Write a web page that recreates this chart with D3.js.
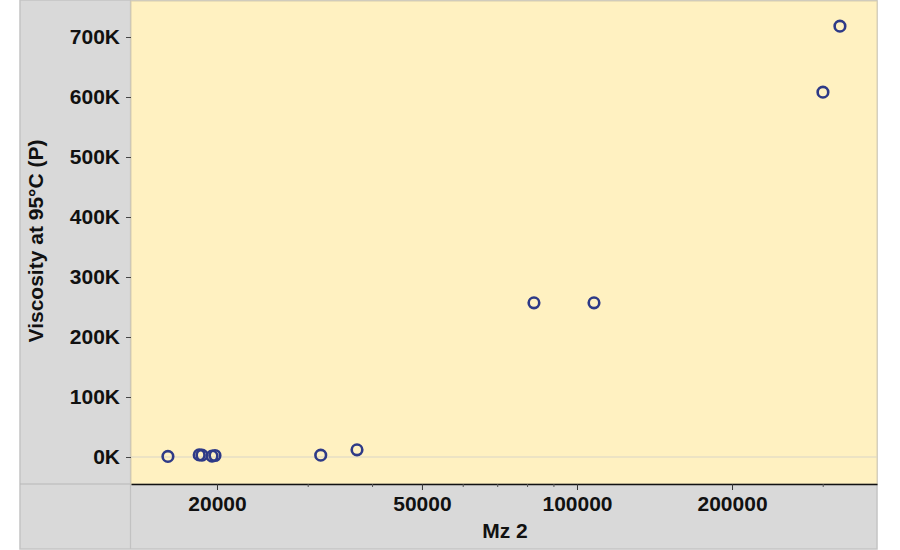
<!DOCTYPE html>
<html lang="en">
<head>
  <meta charset="UTF-8">
  <title>Viscosity vs Mz</title>
  <script src="https://d3js.org/d3.v7.min.js"></script>
  <style>
    body { margin: 0; background: #fff; }
    text { font-family: "Liberation Sans", Arial, sans-serif; font-weight: bold; fill: #111; }
    .tick-label { font-size: 21px; }
    .axis-title { font-size: 21px; }
  </style>
</head>
<body>
  <svg width="900" height="550"></svg>

  <script>
    // data
    let mzValues = [16060, 18470, 18700, 19560, 19820, 31800, 37400, 82500, 107900, 300300, 324000];
    let viscValues = [1000, 3500, 3000, 1500, 2500, 3000, 12000, 257000, 257000, 608000, 718000];

    let xMajorTicks = [20000, 50000, 100000, 200000];
    let xMinorTicks = [30000, 40000, 60000, 70000, 80000, 90000, 300000];
    let yTicks = [0, 100000, 200000, 300000, 400000, 500000, 600000, 700000];

    let xTitle = "Mz 2";
    let yTitle = "Viscosity at 95°C (P)";

    let svg = d3.select("svg");

    // panel + plot box
    let panel = { left: 20, right: 877, top: 0, bottom: 549 };
    let plot = { left: 131, right: 877, top: 1, bottom: 484 };

    let x = d3.scaleLog()
      .domain([13616, 382400])
      .range([plot.left, plot.right]);

    let y = d3.scaleLinear()
      .domain([-45000, 760000])
      .range([plot.bottom, plot.top]);

    // grey background panel
    svg.append("rect")
      .attr("x", panel.left)
      .attr("y", panel.top)
      .attr("width", panel.right - panel.left)
      .attr("height", panel.bottom - panel.top)
      .attr("fill", "#d9d9d9")
      .attr("stroke", "#c4c4c4")
      .attr("stroke-width", 1.5);

    // divider lines in the grey panel
    svg.append("line")
      .attr("x1", plot.left - 0.5).attr("y1", panel.top)
      .attr("x2", plot.left - 0.5).attr("y2", panel.bottom)
      .attr("stroke", "#c2c2c2").attr("stroke-width", 1.2);
    svg.append("line")
      .attr("x1", panel.left).attr("y1", plot.bottom)
      .attr("x2", plot.left).attr("y2", plot.bottom)
      .attr("stroke", "#b8b8b8").attr("stroke-width", 1.2);

    // yellow plot area
    svg.append("rect")
      .attr("x", plot.left)
      .attr("y", plot.top)
      .attr("width", plot.right - plot.left)
      .attr("height", plot.bottom - plot.top)
      .attr("fill", "#fff1c1")
      .attr("stroke", "#d8ceb0")
      .attr("stroke-width", 1);

    // zero reference line
    svg.append("line")
      .attr("x1", plot.left).attr("y1", y(0))
      .attr("x2", plot.right).attr("y2", y(0))
      .attr("stroke", "#d9d6c8").attr("stroke-width", 1.2);

    // x axis (log), major + minor ticks
    let xAxis = svg.append("g")
      .attr("transform", "translate(0," + plot.bottom + ")")
      .call(d3.axisBottom(x).tickValues(xMajorTicks).tickFormat(d3.format("d"))
        .tickSize(6).tickSizeOuter(0).tickPadding(6));
    xAxis.select(".domain").attr("stroke", "#111").attr("stroke-width", 1.5);
    xAxis.selectAll(".tick line").attr("stroke", "#333");
    xAxis.selectAll(".tick text").attr("class", "tick-label").attr("font-size", null).attr("font-family", null);

    let xMinor = svg.append("g")
      .attr("transform", "translate(0," + plot.bottom + ")")
      .call(d3.axisBottom(x).tickValues(xMinorTicks).tickFormat("").tickSize(3));
    xMinor.select(".domain").remove();
    xMinor.selectAll(".tick line").attr("stroke", "#555");

    // y axis
    let yAxis = svg.append("g")
      .attr("transform", "translate(" + plot.left + ",0)")
      .call(d3.axisLeft(y).tickValues(yTicks).tickFormat(d => d / 1000 + "K").tickSize(5).tickPadding(6));
    yAxis.select(".domain").remove();
    yAxis.selectAll(".tick line").attr("stroke", "#444");
    yAxis.selectAll(".tick text").attr("class", "tick-label").attr("font-size", null).attr("font-family", null);

    // titles
    svg.append("text")
      .attr("class", "axis-title")
      .attr("x", 505)
      .attr("y", 538)
      .attr("text-anchor", "middle")
      .text(xTitle);

    svg.append("text")
      .attr("class", "axis-title")
      .attr("transform", "translate(43,241) rotate(-90)")
      .attr("text-anchor", "middle")
      .text(yTitle);

    // points
    let points = mzValues.map((d, i) => ({ mz: d, visc: viscValues[i] }));
    svg.append("g")
      .selectAll("circle")
      .data(points)
      .join("circle")
      .attr("cx", d => x(d.mz))
      .attr("cy", d => y(d.visc))
      .attr("r", 5.3)
      .attr("fill", "none")
      .attr("stroke", "#2e3a87")
      .attr("stroke-width", 2.6);
  </script>
</body>
</html>
